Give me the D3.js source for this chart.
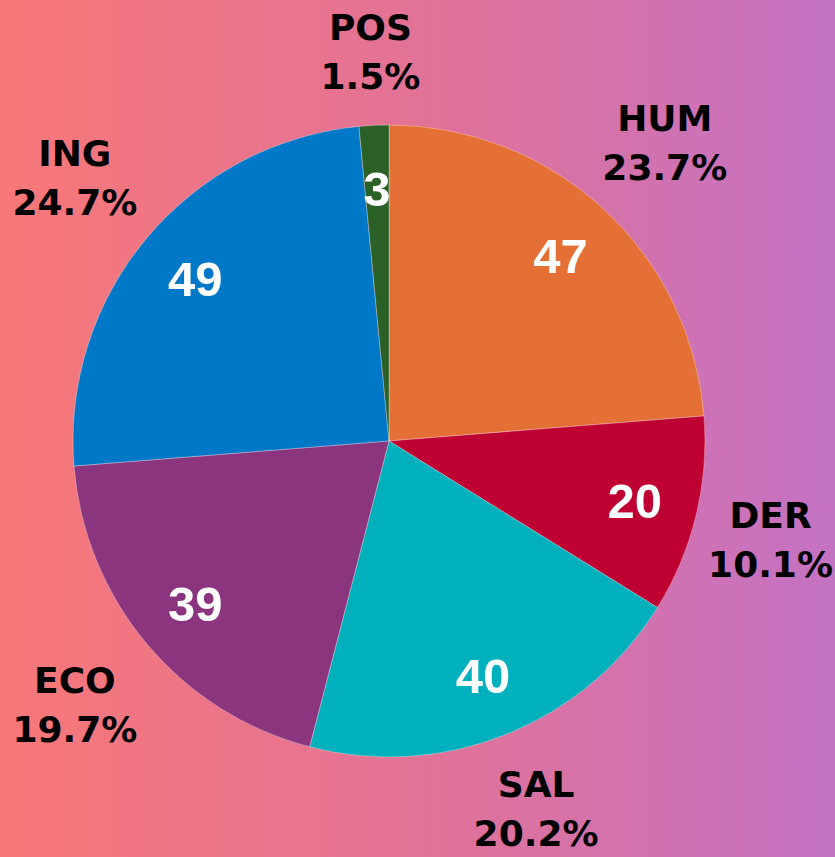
<!DOCTYPE html>
<html>
<head>
<meta charset="utf-8">
<script src="https://cdn.jsdelivr.net/npm/d3@7"></script>
<style>
  html, body { margin: 0; padding: 0; }
  body { width: 835px; height: 857px; overflow: hidden; }
</style>
</head>
<body>
<div id="chart"></div>
<script>
// slice data, clockwise from 12 o'clock
const categories = ['HUM', 'DER', 'SAL', 'ECO', 'ING', 'POS'];
const values = [47, 20, 40, 39, 49, 3];
const colors = ['#E57035', '#BE0032', '#00B0BC', '#8A357E', '#0078C8', '#2B6127'];

let w = 835;
let h = 857;
let cx = 389;
let cy = 441;
let radius = 316;
let labelR = 358; // where outside label boxes start
let halfH = 32;   // half height used when pushing labels out
let lineH = 49;

const svg = d3.select('#chart').append('svg')
  .attr('width', w)
  .attr('height', h);

const grad = svg.append('defs').append('linearGradient')
  .attr('id', 'bg')
  .attr('x1', '0%').attr('x2', '100%')
  .attr('y1', '0%').attr('y2', '0%');
grad.append('stop').attr('offset', '0%').attr('stop-color', '#F87878');
grad.append('stop').attr('offset', '50%').attr('stop-color', '#E27296');
grad.append('stop').attr('offset', '100%').attr('stop-color', '#C472C4');

svg.append('rect')
  .attr('width', w)
  .attr('height', h)
  .attr('fill', 'url(#bg)');

const total = d3.sum(values);
const data = categories.map((c, i) => ({ name: c, value: values[i], color: colors[i] }));

const pie = d3.pie().value(d => d.value).sort(null);
const arcs = pie(data);

const arc = d3.arc().innerRadius(0).outerRadius(radius);
const innerArc = d3.arc().innerRadius(radius * 0.8).outerRadius(radius * 0.8);

const g = svg.append('g').attr('transform', 'translate(' + cx + ',' + cy + ')');

g.selectAll('path.slice')
  .data(arcs)
  .enter()
  .append('path')
  .attr('class', 'slice')
  .attr('d', arc)
  .attr('fill', d => d.data.color)
  .attr('stroke', 'rgba(255,255,255,0.3)')
  .attr('stroke-width', 1);

// values inside slices
g.selectAll('text.val')
  .data(arcs)
  .enter()
  .append('text')
  .attr('class', 'val')
  .attr('transform', d => 'translate(' + innerArc.centroid(d) + ')')
  .attr('text-anchor', 'middle')
  .attr('dy', '0.36em')
  .style('font-family', '"Liberation Sans", Arial, sans-serif')
  .style('font-weight', 'bold')
  .style('font-size', '49px')
  .attr('fill', '#fff')
  .text(d => d.data.value);

// category + percent outside, pushed out along the mid angle
const lbl = g.selectAll('text.lbl')
  .data(arcs)
  .enter()
  .append('text')
  .attr('class', 'lbl')
  .attr('text-anchor', 'middle')
  .style('font-family', '"DejaVu Sans", sans-serif')
  .style('font-weight', 'bold')
  .style('font-size', '36px')
  .attr('fill', '#000');

lbl.append('tspan')
  .attr('x', 0)
  .attr('y', -11.5)
  .text(d => d.data.name);
lbl.append('tspan')
  .attr('x', 0)
  .attr('y', -11.5 + lineH)
  .text(d => (d.data.value / total * 100).toFixed(1) + '%');

lbl.attr('transform', function (d) {
  let a = (d.startAngle + d.endAngle) / 2;
  let vx = Math.sin(a), vy = -Math.cos(a);
  let hw = this.getBBox().width / 2;
  let r = labelR + Math.hypot(hw * vx, halfH * vy);
  let x = vx * r;
  let y = vy * r;
  // keep the box inside the picture
  x = Math.max(-cx + hw + 2, Math.min(w - cx - hw - 2, x));
  return 'translate(' + x + ',' + y + ')';
});
</script>
</body>
</html>
